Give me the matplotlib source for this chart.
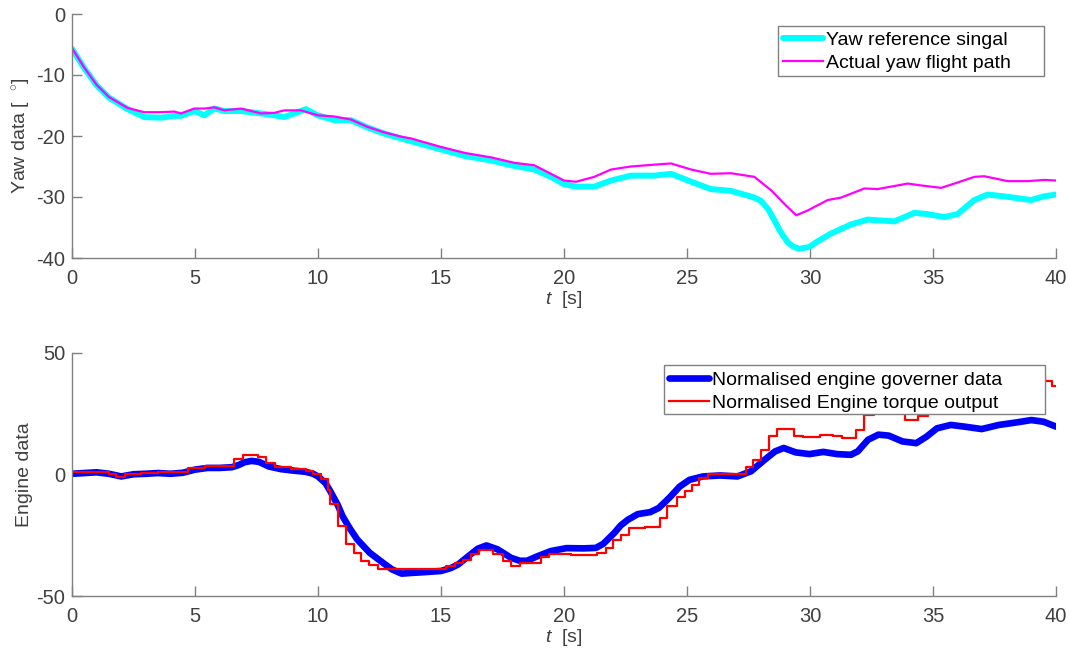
# Yaw tracking and engine response over a 40 s flight segment
import matplotlib.pyplot as plt
from matplotlib.patches import Rectangle
import numpy as np

# yaw reference signal [deg]
ref_t = [0, 0.5, 1.0, 1.5, 2.26, 2.94, 3.62, 4.16, 4.43, 4.97, 5.38, 5.79, 6.19, 6.87,
         7.68, 8.23, 8.63, 9.31, 9.51, 9.98, 10.66, 11.34, 12.01, 12.69, 13.37,
         15.0, 16.0, 17.03, 17.98, 18.79, 19.47, 20.0, 20.49, 21.23, 21.91, 22.72,
         23.67, 24.35, 25.17, 25.97, 26.79, 27.67, 28.0, 28.3, 28.55, 28.8, 29.09,
         29.3, 29.56, 29.97, 30.3, 30.85, 31.67, 32.34, 33.43, 34.24, 34.78, 35.46,
         36.0, 36.68, 37.22, 37.9, 38.98, 39.5, 40.0]
ref_deg = [-5.7, -8.9, -11.7, -13.7, -15.6, -16.9, -17.0, -16.7, -16.7, -15.9, -16.6,
           -15.5, -15.9, -15.9, -16.3, -16.6, -16.9, -15.9, -15.6, -16.6, -17.4, -17.4,
           -18.6, -19.6, -20.4, -22.2, -23.3, -24.0, -24.9, -25.5, -26.7, -27.9, -28.3,
           -28.3, -27.3, -26.5, -26.5, -26.2, -27.5, -28.7, -29.0, -30.0, -30.6, -32.0,
           -33.8, -35.7, -37.4, -38.1, -38.5, -38.2, -37.3, -36.0, -34.5, -33.7, -34.0,
           -32.6, -32.8, -33.3, -32.8, -30.5, -29.6, -29.9, -30.5, -29.9, -29.6]

# measured yaw [deg]
act_t = [0, 0.5, 1.0, 1.5, 2.26, 2.94, 3.62, 4.16, 4.43, 4.97, 5.38, 5.79, 6.19, 6.87,
         7.68, 8.23, 8.63, 9.31, 9.98, 10.66, 11.34, 12.01, 12.69, 13.37, 13.78,
         15.0, 16.0, 17.03, 17.98, 18.79, 19.47, 20.0, 20.49, 21.23, 21.91, 22.72,
         23.67, 24.35, 25.17, 25.97, 26.79, 27.74, 28.42, 29.0, 29.44, 29.91, 30.72,
         31.26, 32.21, 32.75, 33.97, 34.51, 35.33, 35.87, 36.68, 37.09, 38.04, 38.85,
         39.53, 40.0]
act_deg = [-5.6, -8.8, -11.6, -13.6, -15.4, -16.1, -16.1, -16.0, -16.3, -15.5, -15.5,
           -15.3, -15.8, -15.5, -16.3, -16.2, -15.8, -15.8, -16.6, -16.8, -17.3, -18.5,
           -19.4, -20.1, -20.4, -21.8, -22.8, -23.5, -24.4, -24.8, -26.2, -27.3, -27.5,
           -26.7, -25.5, -25.0, -24.7, -24.5, -25.5, -26.2, -26.1, -26.7, -28.9, -31.3,
           -33.0, -32.2, -30.5, -30.1, -28.6, -28.7, -27.8, -28.1, -28.5, -27.8, -26.7,
           -26.6, -27.4, -27.4, -27.2, -27.3]

# normalised engine governor signal
gov_t = [0, 0.5, 1.0, 1.5, 2.0, 2.5, 3.0, 3.5, 4.0, 4.5, 5.0, 5.5, 6.0, 6.5, 6.8,
         7.0, 7.3, 7.6, 8.0, 8.5, 9.0, 9.5, 9.8, 10.0, 10.3, 10.5, 10.8, 11.0, 11.3,
         11.6, 12.1, 12.7, 13.0, 13.4, 13.8, 14.3, 15.0, 15.4, 15.7, 16.2, 16.5,
         16.85, 17.3, 17.85, 18.2, 18.5, 18.93, 19.47, 20.1, 20.8, 21.3, 21.6, 22.05,
         22.3, 22.6, 23.0, 23.5, 23.85, 24.3, 24.7, 25.1, 25.65, 26.35, 27.05, 27.6,
         28.16, 28.58, 28.93, 29.42, 29.98, 30.54, 31.1, 31.66, 31.94, 32.36, 32.78,
         33.2, 33.76, 34.32, 34.74, 35.16, 35.72, 36.28, 36.98, 37.68, 38.38, 39.0,
         39.5, 40.0]
gov_val = [0.3, 0.6, 0.9, 0.3, -0.8, 0.1, 0.3, 0.6, 0.3, 0.7, 2.0, 2.7, 2.7, 3.0, 4.0,
           5.0, 5.6, 5.2, 3.3, 2.2, 1.6, 1.1, 0.3, -0.8, -3.5, -6.9, -12.5, -17.2,
           -22.3, -26.8, -32.2, -36.8, -39.0, -40.8, -40.5, -40.2, -39.7, -38.5, -37.0,
           -32.9, -30.5, -29.2, -30.8, -34.3, -35.5, -35.5, -33.6, -31.5, -30.3, -30.4,
           -30.2, -28.5, -24.0, -21.0, -18.6, -16.3, -15.5, -13.8, -9.4, -5.0, -2.2,
           -0.8, -0.4, -0.8, 1.3, 6.1, 9.5, 10.9, 9.1, 8.4, 9.3, 8.4, 8.1, 9.5, 14.3,
           16.4, 16.0, 13.6, 12.9, 15.6, 19.0, 20.4, 19.7, 18.7, 20.4, 21.4, 22.4,
           21.7, 19.7]

# normalised engine torque (sample-and-hold)
trq_t = [0, 1.5, 1.8, 2.15, 2.8, 3.5, 4.2, 4.7, 5.4, 6.6, 6.95, 7.55, 7.9, 8.25,
         8.9, 9.5, 9.8, 10.12, 10.4, 10.47, 10.8, 11.14, 11.45, 11.75, 12.09, 12.43,
         14.87, 15.2, 15.55, 15.9, 16.22, 16.55, 17.1, 17.5, 17.85, 18.2, 18.52,
         19.07, 19.4, 20.3, 21.35, 21.7, 22.0, 22.3, 22.66, 23.3, 23.9, 24.2, 24.6,
         24.9, 25.2, 25.5, 25.84, 26.43, 27.4, 27.7, 28.0, 28.35, 28.67, 29.35, 29.7,
         30.4, 30.95, 31.3, 31.85, 32.2, 32.6, 33.1, 33.85, 34.4, 34.8, 35.5, 36.3,
         37.1, 38.0, 38.8, 39.55, 39.85, 40.0]
trq_val = [0.9, 0.2, -1.2, 0.3, 0.6, 0.9, 1.2, 2.5, 3.3, 6.4, 8.2, 7.4, 4.8, 3.0,
           2.2, 1.4, 0.2, -2.0, -6.2, -12.3, -21.2, -28.7, -32.2, -35.6, -37.4, -39.0,
           -38.8, -37.7, -36.6, -35.3, -32.9, -31.0, -32.9, -35.7, -37.7, -36.6, -36.3,
           -33.9, -32.9, -33.2, -32.2, -30.2, -27.0, -24.7, -22.0, -21.7, -18.0, -13.0,
           -9.2, -6.7, -4.4, -1.6, 0.1, 0.3, 3.1, 6.1, 10.2, 15.7, 18.7, 16.0, 15.4,
           16.4, 15.7, 15.1, 18.4, 24.6, 30.0, 31.0, 22.5, 23.9, 30.0, 32.0, 34.0,
           35.5, 37.0, 40.4, 38.3, 36.3, 36.3]

plt.rcParams['font.family'] = 'Liberation Sans'
plt.rcParams['font.size'] = 14
plt.rcParams['axes.unicode_minus'] = False
plt.rcParams['mathtext.fontset'] = 'custom'
plt.rcParams['mathtext.rm'] = 'Liberation Sans'
plt.rcParams['mathtext.it'] = 'Liberation Sans:italic'

W, H = 1069, 657
fig = plt.figure(figsize=(W / 100, H / 100), dpi=100)
ax1 = fig.add_axes([72 / W, 1 - 258 / H, 984 / W, 244 / H])
ax2 = fig.add_axes([72 / W, 1 - 596 / H, 984 / W, 243 / H])

axcol = '#808080'
txtcol = '#404040'


def style(ax):
    for s in ['top', 'right']:
        ax.spines[s].set_visible(False)
    for s in ['left', 'bottom']:
        ax.spines[s].set_color(axcol)
        ax.spines[s].set_linewidth(1.0)
    ax.tick_params(direction='in', length=7, width=1.0, color=axcol,
                   labelcolor=txtcol, labelsize=14.5)
    ax.tick_params(axis='x', pad=8)
    ax.tick_params(axis='y', pad=5)
    ax.set_xlim(0, 40)
    ax.set_xticks(np.arange(0, 41, 5))
    ax.set_xlabel('$t$  [s]', color=txtcol, fontsize=14, labelpad=1)
    ax.yaxis.set_label_coords(-39 / 984, 0.5)


def legend_box(ax, x0, y0, x1, y1, handle_x, top_y):
    # white framed box in figure pixels, legend entries placed inside it
    ax.add_patch(Rectangle((x0 / W, 1 - y1 / H), (x1 - x0) / W, (y1 - y0) / H,
                           transform=fig.transFigure, facecolor='white',
                           edgecolor=axcol, lw=1.0, zorder=4, clip_on=False))
    ax.legend(loc='upper left', bbox_to_anchor=(handle_x / W, 1 - top_y / H),
              bbox_transform=fig.transFigure, borderaxespad=0, borderpad=0,
              frameon=False, labelspacing=0.28, handlelength=2.06,
              handletextpad=0.15, fontsize=14)


# yaw
ax1.plot(ref_t, ref_deg, color=(0, 1, 1), lw=4.3, solid_joinstyle='round',
         solid_capstyle='round', label='Yaw reference singal')
ax1.plot(act_t, act_deg, color=(1, 0, 1), lw=1.6, label='Actual yaw flight path')
style(ax1)
ax1.set_ylim(-40, 0)
ax1.set_yticks([-40, -30, -20, -10, 0])
ax1.set_ylabel(r'Yaw data [  $^{\circ}$]', color=txtcol, fontsize=14)
legend_box(ax1, 778, 26, 1044, 76, 783, 31)

# engine
ax2.plot(gov_t, gov_val, color=(0, 0, 1), lw=4.8, solid_joinstyle='round',
         solid_capstyle='round', label='Normalised engine governer data')
ax2.plot(trq_t, trq_val, color=(1, 0, 0), lw=1.6, drawstyle='steps-post',
         label='Normalised Engine torque output')
style(ax2)
ax2.set_ylim(-50, 50)
ax2.set_yticks([-50, 0, 50])
ax2.set_ylabel('Engine data', color=txtcol, fontsize=14)
legend_box(ax2, 664, 365, 1045, 414, 669, 371)

fig.savefig('out.png', dpi=100)
